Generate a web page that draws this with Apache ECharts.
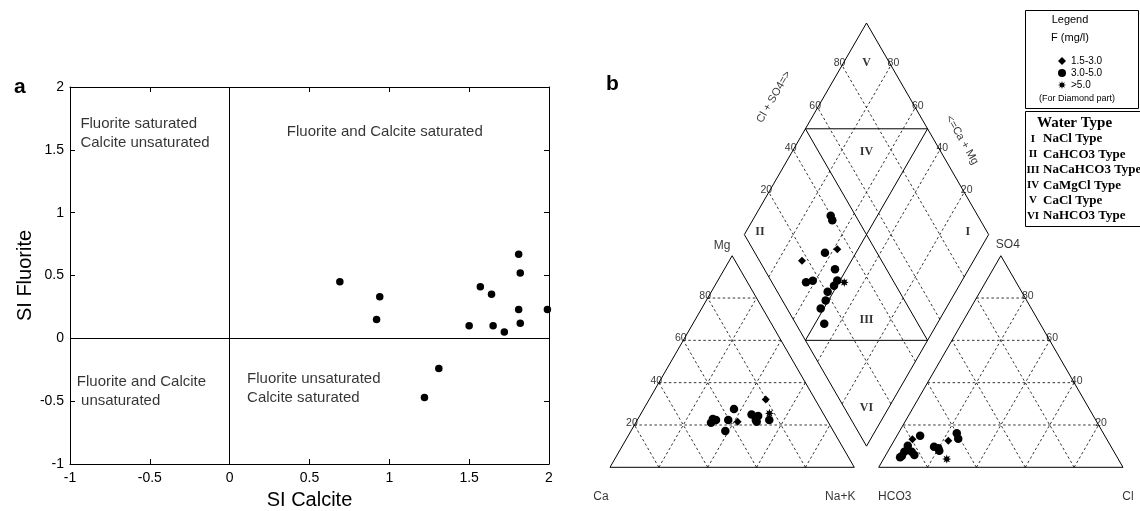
<!DOCTYPE html>
<html><head><meta charset="utf-8">
<script src="https://cdn.jsdelivr.net/npm/echarts@6/dist/echarts.min.js"></script>
<style>html,body{margin:0;padding:0;background:#fff}#c{width:1140px;height:511px}</style>
</head><body><div id="c"></div>
<script>
// ---------- Panel a : saturation indices ----------
const siCalcite  = [0.69, 0.94, 0.92, 1.57, 1.64, 1.50, 1.65, 1.72, 1.81, 1.82, 1.81, 1.82, 1.99, 1.31, 1.22];
const siFluorite = [0.45, 0.33, 0.15, 0.41, 0.35, 0.10, 0.10, 0.05, 0.67, 0.52, 0.23, 0.12, 0.23, -0.24, -0.47];
const regionTextA = [
  {x: -0.935, y: 1.63, t: 'Fluorite saturated\nCalcite unsaturated'},
  {x: 0.358, y: 1.64, t: 'Fluorite and Calcite saturated'},
  {x: -0.957, y: -0.418, t: 'Fluorite and Calcite\n unsaturated'},
  {x: 0.109, y: -0.398, t: 'Fluorite unsaturated\nCalcite saturated'}
];

// ---------- Panel b : Piper diagram ----------
// F class: 0 = 1.5-3.0, 1 = 3.0-5.0, 2 = >5.0
const catCa    = [46.5, 45.4, 48.1, 40.4, 35.5, 37.0, 44.2, 29.6, 27.2, 29.1, 29.2, 20.2, 22.0, 23.6];
const catMg    = [22.8, 22.4, 21.1, 22.4, 27.5, 21.5, 17.2, 24.9, 24.3, 22.4, 21.5, 32.1, 25.5, 22.4];
const catNaK   = [30.7, 32.2, 30.8, 37.2, 37.0, 41.5, 38.6, 45.5, 48.5, 48.5, 49.3, 47.7, 52.5, 54.0];
const catClass = [1, 1, 1, 1, 1, 0, 1, 1, 1, 1, 1, 0, 2, 1];

const aniHCO3  = [75.6, 79.6, 83.0, 85.8, 87.9, 82.5, 82.8, 72.5, 71.1, 71.3, 65.2, 60.0, 60.7, 70.2, 88.9];
const aniSO4   = [14.9, 13.2, 10.2, 7.4, 5.3, 5.8, 7.4, 9.7, 9.0, 7.8, 12.6, 16.1, 13.5, 3.9, 4.7];
const aniCl    = [9.5, 7.2, 6.8, 6.8, 6.8, 11.7, 9.8, 17.8, 19.9, 20.9, 22.2, 23.9, 25.8, 25.9, 6.4];
const aniClass = [1, 0, 1, 1, 1, 1, 1, 1, 1, 1, 0, 1, 1, 2, 1];

const diaCaMg  = [69.1, 67.4, 58.5, 62.7, 70.2, 54.7, 63.5, 61.1, 51.1, 47.8, 51.2, 52.4, 51.1, 51.3, 46.2];
const diaClSO4 = [39.8, 39.4, 34.6, 28.7, 17.4, 28.9, 14.0, 17.1, 27.2, 29.6, 24.6, 20.6, 17.7, 13.8, 11.6];
const diaClass = [1, 1, 0, 1, 0, 1, 1, 1, 1, 2, 1, 1, 1, 1, 1];

const classNames = ['1.5-3.0', '3.0-5.0', '>5.0'];
const piperTicks = [20, 40, 60, 80];
const regionNames = ['V', 'IV', 'II', 'I', 'III', 'VI'];
const regionCaMg  = [90.5, 69.5, 94.2, 9.1, 29.8, 9.0];
const regionClSO4 = [90.5, 69.5, 7.0, 92.1, 29.8, 9.0];
const waterTypes = [['I', 'NaCl Type'], ['II', 'CaHCO3 Type'], ['III', 'NaCaHCO3 Type'],
                    ['IV', 'CaMgCl Type'], ['V', 'CaCl Type'], ['VI', 'NaHCO3 Type']];

// ---------- geometry helpers (ternary -> cartesian units, side = 100) ----------
const GAP = 10, KH = Math.sqrt(3) / 2;
const PIPER_YMAX = GAP / 2 * Math.sqrt(3) + 2 * 100 * KH;
function cat(ca, mg, na) { const s = ca + mg + na; return [(na + mg / 2) * 100 / s, mg * KH * 100 / s]; }
function ani(h, so4, cl) { const s = h + so4 + cl; return [100 + GAP + (cl + so4 / 2) * 100 / s, so4 * KH * 100 / s]; }
function dia(camg, clso4) { return [100 + GAP / 2 + (clso4 - camg) / 2, GAP / 2 * Math.sqrt(3) + KH * (camg + clso4)]; }
function shift(p, dx, dy) { return [p[0] + dx, p[1] + dy]; }
function seg(p, q) { return [p[0], p[1], q[0], q[1]]; }

const frame = [
  seg(cat(100,0,0), cat(0,0,100)), seg(cat(0,0,100), cat(0,100,0)), seg(cat(0,100,0), cat(100,0,0)),
  seg(ani(100,0,0), ani(0,0,100)), seg(ani(0,0,100), ani(0,100,0)), seg(ani(0,100,0), ani(100,0,0)),
  seg(dia(0,0), dia(100,0)), seg(dia(100,0), dia(100,100)), seg(dia(100,100), dia(0,100)), seg(dia(0,100), dia(0,0))
];
const classLines = [
  seg(dia(100,50), dia(50,100)), seg(dia(50,0), dia(0,50)),
  seg(dia(50,0), dia(50,100)), seg(dia(0,50), dia(100,50))
];
const dashed = [];
piperTicks.forEach(v => {
  dashed.push(seg(cat(100-v, v, 0), cat(0, v, 100-v)));
  dashed.push(seg(cat(v, 0, 100-v), cat(v, 100-v, 0)));
  dashed.push(seg(cat(100-v, 0, v), cat(0, 100-v, v)));
  dashed.push(seg(ani(100-v, v, 0), ani(0, v, 100-v)));
  dashed.push(seg(ani(v, 0, 100-v), ani(v, 100-v, 0)));
  dashed.push(seg(ani(100-v, 0, v), ani(0, 100-v, v)));
  dashed.push(seg(dia(v, 0), dia(v, 100)));
  dashed.push(seg(dia(0, v), dia(100, v)));
});

function segSeries(data, dash, width) {
  return {
    type: 'custom', xAxisIndex: 2, yAxisIndex: 2, silent: true, data: data,
    encode: {x: [0, 2], y: [1, 3]},
    renderItem: function (params, api) {
      const p1 = api.coord([api.value(0), api.value(1)]);
      const p2 = api.coord([api.value(2), api.value(3)]);
      return {type: 'line', shape: {x1: p1[0], y1: p1[1], x2: p2[0], y2: p2[1]},
              style: {stroke: '#000', lineWidth: width, lineDash: dash ? [2.5, 2.5] : null}};
    }
  };
}

const starPath = 'path://M10,0L4.62,1.91L7.07,7.07L1.91,4.62L0,10L-1.91,4.62L-7.07,7.07L-4.62,1.91L-10,0L-4.62,-1.91L-7.07,-7.07L-1.91,-4.62L0,-10L1.91,-4.62L7.07,-7.07L4.62,-1.91Z';
const classSymbols = ['diamond', 'circle', starPath];
const classSizes = [8, 8.5, 9];

const pts = [[], [], []];
catCa.forEach((c, i) => pts[catClass[i]].push(cat(c, catMg[i], catNaK[i])));
aniHCO3.forEach((h, i) => pts[aniClass[i]].push(ani(h, aniSO4[i], aniCl[i])));
diaCaMg.forEach((c, i) => pts[diaClass[i]].push(dia(c, diaClSO4[i])));

// labels on the Piper diagram
const FONT = 'Liberation Sans, Arial, sans-serif';
const SERIF = 'Liberation Serif, Times New Roman, serif';
const pLabels = [];
function addLabel(p, text, opt) {
  pLabels.push({value: p, label: Object.assign({show: true, formatter: text, color: '#000',
    fontFamily: FONT, fontSize: 10.5, position: 'inside', align: 'center', verticalAlign: 'middle'}, opt)});
}
piperTicks.forEach(v => {
  addLabel(cat(100-v, v, 0), String(v), {position: 'left', distance: 2, offset: [0, -2]});
  addLabel(ani(0, v, 100-v), String(v), {position: 'right', distance: 2, offset: [0, -2]});
  addLabel(shift(cat(v, 0, 100-v), 1.6, -4.6), String(v), {rotate: -60});
  addLabel(shift(ani(100-v, 0, v), 1.6, -4.6), String(v), {rotate: -60});
  addLabel(dia(100, v), String(v), {position: 'left', distance: 2, offset: [0, -2]});
  addLabel(dia(v, 100), String(v), {position: 'right', distance: 2, offset: [0, -2]});
});
addLabel(cat(0,100,0), 'Mg', {fontSize: 12, offset: [-10, -10]});
addLabel(ani(0,100,0), 'SO4', {fontSize: 12, offset: [7, -11]});
addLabel(cat(100,0,0), 'Ca', {fontSize: 12, offset: [-9, 29]});
addLabel(cat(0,0,100), 'Na+K', {fontSize: 12, offset: [-14, 29]});
addLabel(ani(100,0,0), 'HCO3', {fontSize: 12, offset: [16, 29]});
addLabel(ani(0,0,100), 'Cl', {fontSize: 12, offset: [5, 29]});
addLabel(shift(dia(100, 55), -15.4, 8.7), 'Cl + SO4=>', {fontSize: 11, rotate: 60});
addLabel(shift(dia(38, 100), 8.1, 5.8), '<=Ca + Mg', {fontSize: 11, rotate: -60});
regionNames.forEach((n, i) => addLabel(dia(regionCaMg[i], regionClSO4[i]), n,
  {fontFamily: SERIF, fontSize: 12, fontWeight: 'bold'}));

const series = [
  {
    type: 'scatter', xAxisIndex: 0, yAxisIndex: 0, symbol: 'circle', symbolSize: 7.5,
    itemStyle: {color: '#000', opacity: 1}, silent: true,
    data: siCalcite.map((x, i) => [x, siFluorite[i]]),
    markLine: {silent: true, symbol: 'none', label: {show: false},
      lineStyle: {color: '#000', width: 1, type: 'solid'}, animation: false,
      data: [{xAxis: 0}, {yAxis: 0}]}
  },
  {
    type: 'scatter', xAxisIndex: 0, yAxisIndex: 0, symbolSize: 1, silent: true,
    itemStyle: {color: 'rgba(0,0,0,0)'},
    label: {show: true, position: 'inside', align: 'left', verticalAlign: 'middle', color: '#000',
      fontFamily: FONT, fontSize: 15, lineHeight: 19, formatter: p => p.data.t},
    data: regionTextA.map(r => ({value: [r.x, r.y], t: r.t}))
  },
  segSeries(dashed, true, 0.8),
  segSeries(frame, false, 1),
  segSeries(classLines, false, 1),
  {
    type: 'scatter', xAxisIndex: 2, yAxisIndex: 2, symbolSize: 1, silent: true,
    itemStyle: {color: 'rgba(0,0,0,0)'}, data: pLabels, z: 5
  }
];
classNames.forEach((n, k) => series.push({
  name: n, type: 'scatter', xAxisIndex: 2, yAxisIndex: 2, symbol: classSymbols[k],
  symbolSize: classSizes[k], itemStyle: {color: '#000', opacity: 1}, data: pts[k], z: 6, silent: true
}));

const axisCommon = {
  min: -1, max: 2, interval: 0.5, type: 'value',
  axisLine: {show: true, onZero: false, lineStyle: {color: '#000', width: 1}},
  axisTick: {show: true, inside: true, length: 5, lineStyle: {color: '#000'}},
  splitLine: {show: false}
};

const option = {
  animation: false,
  backgroundColor: '#fff',
  grid: [
    {left: 70, right: 591, top: 87, bottom: 47, containLabel: false, outerBoundsMode: 'none'},
    {left: 610, top: 23, width: 513, height: 444.3, containLabel: false, outerBoundsMode: 'none'}
  ],
  xAxis: [
    Object.assign({}, axisCommon, {gridIndex: 0, position: 'bottom',
      axisLabel: {color: '#000', fontSize: 14, fontFamily: FONT, margin: 7},
      name: 'SI Calcite', nameLocation: 'middle', nameGap: 26,
      nameTextStyle: {color: '#000', fontSize: 20, fontFamily: FONT}}),
    Object.assign({}, axisCommon, {gridIndex: 0, position: 'top', axisLabel: {show: false}}),
    {gridIndex: 1, type: 'value', min: 0, max: 210, show: false}
  ],
  yAxis: [
    Object.assign({}, axisCommon, {gridIndex: 0, position: 'left',
      axisLabel: {color: '#000', fontSize: 14, fontFamily: FONT, margin: 6},
      name: 'SI Fluorite', nameLocation: 'middle', nameGap: 31,
      nameTextStyle: {color: '#000', fontSize: 20, fontFamily: FONT}}),
    Object.assign({}, axisCommon, {gridIndex: 0, position: 'right', axisLabel: {show: false}}),
    {gridIndex: 1, type: 'value', min: 0, max: PIPER_YMAX, show: false}
  ],
  legend: {
    orient: 'vertical', left: 1053, top: 51, itemWidth: 8, itemHeight: 8, itemGap: 2,
    selectedMode: false, textStyle: {fontSize: 10, fontFamily: FONT, color: '#000'},
    data: classNames.map((n, k) => ({name: n, icon: classSymbols[k]})),
    z: 20
  },
  graphic: [
    {type: 'text', left: 14, top: 77, style: {text: 'a', font: 'bold 21px ' + FONT, fill: '#000'}},
    {type: 'text', left: 606, top: 74, style: {text: 'b', font: 'bold 21px ' + FONT, fill: '#000'}},
    {type: 'rect', shape: {x: 1025.5, y: 10.5, width: 113, height: 98}, style: {fill: '#fff', stroke: '#000', lineWidth: 1}, z: 10},
    {type: 'text', x: 1070, y: 20, style: {text: 'Legend', font: '11px ' + FONT, fill: '#000', textAlign: 'center', textVerticalAlign: 'middle'}, z: 11},
    {type: 'text', x: 1070, y: 38, style: {text: 'F (mg/l)', font: '11px ' + FONT, fill: '#000', textAlign: 'center', textVerticalAlign: 'middle'}, z: 11},
    {type: 'text', x: 1077, y: 99, style: {text: '(For Diamond part)', font: '9px ' + FONT, fill: '#000', textAlign: 'center', textVerticalAlign: 'middle'}, z: 11},
    {type: 'rect', shape: {x: 1025.5, y: 111.5, width: 130, height: 115}, style: {fill: '#fff', stroke: '#000', lineWidth: 1}, z: 10},
    {type: 'text', x: 1037, y: 123, style: {text: 'Water Type', font: 'bold 15px ' + SERIF, fill: '#000', textVerticalAlign: 'middle'}, z: 11}
  ].concat(waterTypes.map((w, i) => ({
    type: 'text', x: 1033, y: 139 + i * 15.4, z: 11,
    style: {text: w[0], font: 'bold 11px ' + SERIF, fill: '#000', textAlign: 'center', textVerticalAlign: 'middle'}
  }))).concat(waterTypes.map((w, i) => ({
    type: 'text', x: 1043, y: 139 + i * 15.4, z: 11,
    style: {text: w[1], font: 'bold 13px ' + SERIF, fill: '#000', textVerticalAlign: 'middle'}
  }))),
  series: series
};

const chart = echarts.init(document.getElementById('c'));
chart.setOption(option);
</script>
</body></html>
